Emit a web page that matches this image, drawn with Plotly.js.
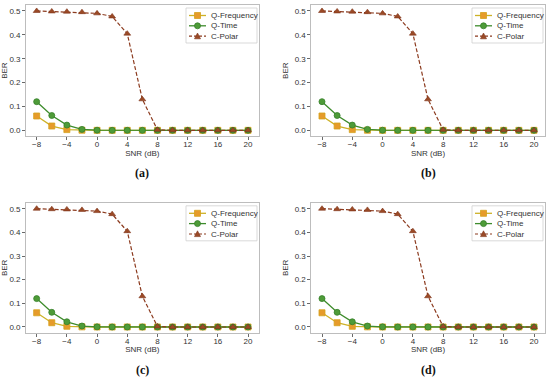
<!DOCTYPE html>
<html>
<head>
<meta charset="utf-8">
<script src="https://cdn.plot.ly/plotly-3.0.1.min.js"></script>
<style>html,body{margin:0;padding:0;background:#fff}#chart{width:550px;height:380px}</style>
</head>
<body>
<div id="chart"></div>
<script>
// ---- data ----
const snr = [-8, -6, -4, -2, 0, 2, 4, 6, 8, 10, 12, 14, 16, 18, 20];
const qFrequency = [0.06, 0.018, 0.003, 0.0005, 0, 0, 0, 0, 0, 0, 0, 0, 0, 0, 0];
const qTime = [0.12, 0.062, 0.022, 0.004, 0.0005, 0, 0, 0, 0, 0, 0, 0, 0, 0, 0];
const cPolar = [0.5, 0.498, 0.497, 0.495, 0.49, 0.477, 0.405, 0.13, 0.002, 0, 0, 0, 0, 0, 0];
const seriesNames = ["Q-Frequency", "Q-Time", "C-Polar"];
const panelLabels = ["(a)", "(b)", "(c)", "(d)"];
const xTicks = [-8, -4, 0, 4, 8, 12, 16, 20];
const yTicks = [0, 0.1, 0.2, 0.3, 0.4, 0.5];

// ---- styling ----
const styles = [
  {line: {color: "#cdb227", width: 1.3}, marker: {symbol: "square", size: 6, color: "#e69b2b", line: {color: "#d4a21c", width: 0.8}}},
  {line: {color: "#3e8c2c", width: 1.3}, marker: {symbol: "circle", size: 6, color: "#4e9b38", line: {color: "#35802a", width: 0.8}}},
  {line: {color: "#8c3b1f", width: 1.2, dash: "4px,2px"}, marker: {symbol: "triangle-up", size: 6, color: "#9b4a26", line: {color: "#7d3318", width: 0.6}}}
];
const seriesData = [qFrequency, qTime, cPolar];

const W = 550, H = 380;
const px = v => v / W;          // pixel -> paper x
const py = v => 1 - v / H;      // pixel (from top) -> paper y
const frames = [
  {l: 26.1, r: 258.6, t: 5, b: 136.3},
  {l: 311.4, r: 544.6, t: 5, b: 136.3},
  {l: 26.1, r: 258.6, t: 202.8, b: 332.9},
  {l: 311.4, r: 544.6, t: 202.8, b: 332.9}
];

const traces = [];
const shapes = [];
const annotations = [];
const layout = {
  width: W, height: H,
  margin: {l: 0, r: 0, t: 0, b: 0},
  paper_bgcolor: "#fff", plot_bgcolor: "#fff",
  font: {family: "Liberation Sans, Arial, sans-serif", size: 8, color: "#333"},
  showlegend: false
};

const tickFont = {family: "Liberation Sans, Arial, sans-serif", size: 8, color: "#333"};

frames.forEach((f, i) => {
  const n = i === 0 ? "" : String(i + 1);
  seriesData.forEach((d, s) => {
    traces.push({
      type: "scatter", mode: "lines+markers",
      x: snr, y: d, name: seriesNames[s],
      xaxis: "x" + n, yaxis: "y" + n,
      line: styles[s].line, marker: styles[s].marker,
      showlegend: false
    });
  });
  layout["xaxis" + n] = {
    domain: [px(f.l), px(f.r)], anchor: "y" + n, range: [-9.4, 21.4],
    tickmode: "array", tickvals: xTicks,
    showline: true, mirror: true, linecolor: "#bdbdbd", linewidth: 1,
    ticks: "outside", ticklen: 3, tickwidth: 0.8, tickcolor: "#444",
    ticklabelstandoff: -3,
    showgrid: false, zeroline: false, tickfont: tickFont,
    title: {text: "SNR (dB)", font: {size: 8, color: "#333"}, standoff: 0}
  };
  layout["yaxis" + n] = {
    domain: [py(f.b), py(f.t)], anchor: "x" + n, range: [-0.025, 0.525],
    tickmode: "array", tickvals: yTicks, tickformat: ".1f",
    showline: true, mirror: true, linecolor: "#bdbdbd", linewidth: 1,
    ticks: "outside", ticklen: 3, tickwidth: 0.8, tickcolor: "#444",
    showgrid: false, zeroline: false, tickfont: tickFont,
    title: {text: "BER", font: {size: 8, color: "#333"}, standoff: 4}
  };

  // legend key box (drawn in paper space, top-right of each panel)
  const bx0 = f.r - 72.6, bx1 = f.r - 1.6, by0 = f.t + 3, by1 = f.t + 38;
  shapes.push({type: "rect", xref: "paper", yref: "paper", x0: px(bx0), x1: px(bx1), y0: py(by1), y1: py(by0),
    line: {color: "#cfcfcf", width: 0.8}, fillcolor: "rgba(255,255,255,0.9)", layer: "above"});
  const rowY = [by0 + 7.5, by0 + 17.8, by0 + 28.2];
  seriesNames.forEach((name, s) => {
    const yy = rowY[s];
    const st = styles[s];
    shapes.push({type: "line", xref: "paper", yref: "paper", x0: px(bx0 + 3), x1: px(bx0 + 20), y0: py(yy), y1: py(yy),
      line: {color: st.line.color, width: st.line.width, dash: s === 2 ? "3px,2px" : "solid"}, layer: "above"});
    const cx = bx0 + 11.5, r = 3;
    if (s === 0) {
      shapes.push({type: "rect", xref: "paper", yref: "paper", x0: px(cx - r), x1: px(cx + r), y0: py(yy + r), y1: py(yy - r),
        fillcolor: st.marker.color, line: {color: st.marker.line.color, width: 0.8}, layer: "above"});
    } else if (s === 1) {
      shapes.push({type: "circle", xref: "paper", yref: "paper", x0: px(cx - r), x1: px(cx + r), y0: py(yy + r), y1: py(yy - r),
        fillcolor: st.marker.color, line: {color: st.marker.line.color, width: 0.8}, layer: "above"});
    } else {
      const p = "M" + px(cx - r) + "," + py(yy + 2.6) + " L" + px(cx + r) + "," + py(yy + 2.6) + " L" + px(cx) + "," + py(yy - 3.2) + " Z";
      shapes.push({type: "path", xref: "paper", yref: "paper", path: p,
        fillcolor: st.marker.color, line: {color: st.marker.line.color, width: 0.6}, layer: "above"});
    }
    annotations.push({text: name, xref: "paper", yref: "paper", x: px(bx0 + 23), y: py(yy),
      xanchor: "left", yanchor: "middle", showarrow: false,
      font: {family: "Liberation Sans, Arial, sans-serif", size: 8, color: "#333"}});
  });

  annotations.push({
    text: "<b>" + panelLabels[i] + "</b>", xref: "paper", yref: "paper",
    x: px((f.l + f.r) / 2), y: py(f.b + 37), xanchor: "center", yanchor: "middle",
    showarrow: false, font: {family: "Liberation Serif, Times New Roman, serif", size: 12, color: "#111"}
  });
});

layout.shapes = shapes;
layout.annotations = annotations;

Plotly.newPlot("chart", traces, layout, {staticPlot: true, displayModeBar: false});
</script>
</body>
</html>
